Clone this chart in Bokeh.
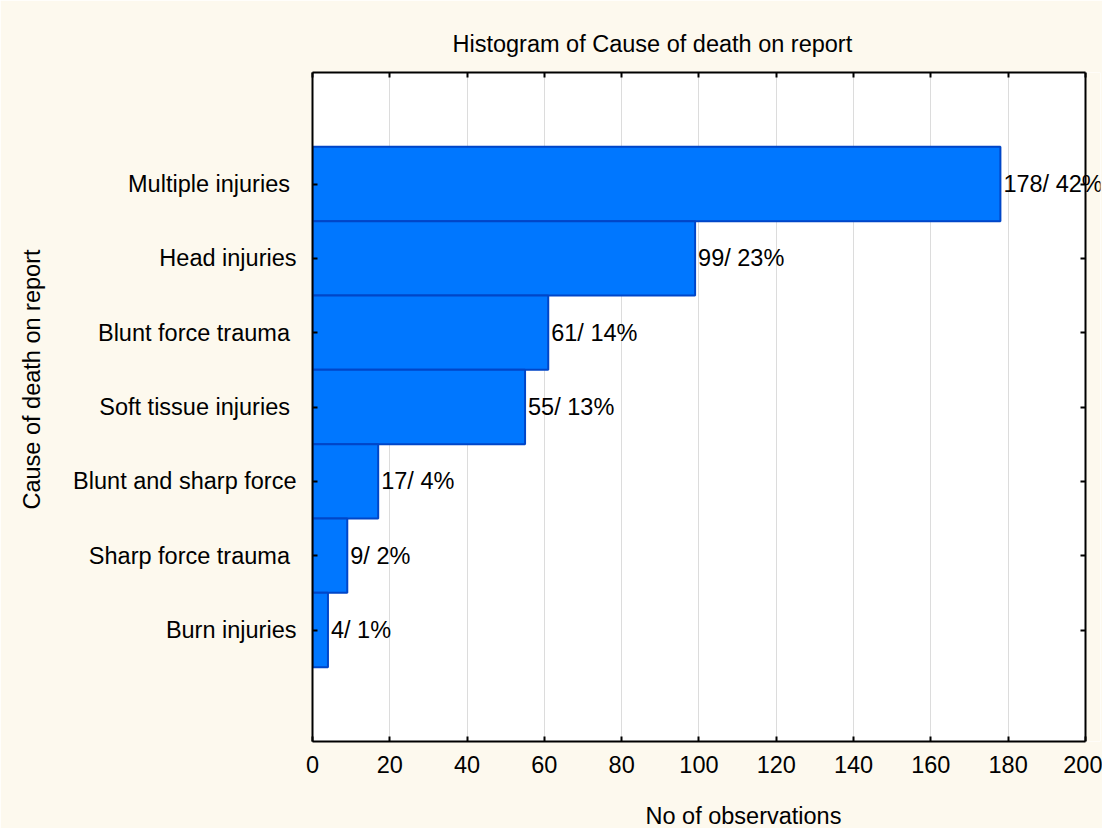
from bokeh.plotting import figure
from bokeh.models import (ColumnDataSource, Range1d, FactorRange, LinearAxis, CategoricalAxis,
                          FixedTicker, LabelSet, Title, BoxAnnotation)
from bokeh.core.properties import value
from bokeh.embed import file_html
from bokeh.resources import INLINE

# ---- data (top to bottom as in the chart) ----
causes = ["Multiple injuries ", "Head injuries", "Blunt force trauma ", "Soft tissue injuries ",
          "Blunt and sharp force", "Sharp force trauma ", "Burn injuries"]
counts = [178, 99, 61, 55, 17, 9, 4]
percents = [42, 23, 14, 13, 4, 2, 1]
x_ticks = [0, 20, 40, 60, 80, 100, 120, 140, 160, 180, 200]
X_MAX = 200          # end of the axes
X_VIEW_END = 203.9   # a little extra room so the top value label can run past the frame

labels = [f"{c}/ {p}%" for c, p in zip(counts, percents)]

FONT = "Liberation Sans"
FS = "23.5px"
CREAM = "#FDF9EE"

src = ColumnDataSource(dict(cause=causes, count=counts, label=labels))

p = figure(width=1102, height=828, output_backend="svg", toolbar_location=None,
           x_range=Range1d(0, X_VIEW_END),
           y_range=FactorRange(factors=list(reversed(causes)), range_padding=1.0,
                               range_padding_units="absolute"),
           x_axis_location=None, y_axis_location=None,
           min_border_left=312, min_border_right=2, min_border_top=72, min_border_bottom=87)
p.background_fill_color = "white"
p.border_fill_color = CREAM
p.outline_line_color = None

# area beyond the x-axis end belongs to the surrounding (cream) border
p.add_layout(BoxAnnotation(left=X_MAX, fill_color=CREAM, fill_alpha=1.0, line_color=None,
                           level="underlay"))

p.hbar(y="cause", right="count", left=0, height=1.0, source=src,
       fill_color="#0077FF", line_color="#0046C8", line_width=2)
p.add_layout(LabelSet(x="count", y="cause", text="label", source=src, x_offset=3,
                      text_baseline="middle", text_align="left", text_font=value(FONT),
                      text_font_size=value(FS), text_color="black", level="overlay"))

def style_axis(ax, labels_on=True):
    ax.axis_line_color = "black"
    ax.axis_line_width = 2
    ax.major_tick_line_color = "black"
    ax.major_tick_line_width = 2
    ax.major_tick_in = 5
    ax.major_tick_out = 0
    ax.minor_tick_line_color = None
    ax.major_label_text_font = FONT
    ax.major_label_text_font_size = FS
    ax.major_label_text_color = "black"
    if not labels_on:
        ax.major_label_text_font_size = "0px"
        ax.major_label_text_color = None
        ax.major_label_standoff = 0

# spacer labels (non-breaking space) only reserve room between tick labels and axis titles
xb = LinearAxis(ticker=FixedTicker(ticks=x_ticks), major_label_standoff=14, bounds=(0, X_MAX),
                axis_label="\u00a0", axis_label_standoff=0, axis_label_text_font_size="20px")
style_axis(xb)
p.add_layout(xb, "below")
xt = LinearAxis(ticker=FixedTicker(ticks=x_ticks), bounds=(0, X_MAX))
style_axis(xt, False)
p.add_layout(xt, "above")
yl = CategoricalAxis(major_label_standoff=16,
                     axis_label="\u00a0", axis_label_standoff=0, axis_label_text_font_size="20px")
style_axis(yl)
p.add_layout(yl, "left")
yr = CategoricalAxis(fixed_location=X_MAX)
style_axis(yr, False)
p.add_layout(yr, "right")

p.xgrid.ticker = FixedTicker(ticks=x_ticks)
p.xgrid.grid_line_color = "#DCDCDC"
p.xgrid.grid_line_width = 1
p.ygrid.grid_line_color = None

tstyle = dict(text_font=FONT, text_font_size=FS, text_font_style="normal", text_color="black")
p.add_layout(Title(text="Histogram of Cause of death on report", align="left", offset=140,
                   standoff=31, **tstyle), "above")
p.add_layout(Title(text="No of observations", align="left", offset=333, standoff=0, **tstyle),
             "below")
p.add_layout(Title(text="Cause of death on report", align="left", offset=232, standoff=2,
                   **tstyle), "left")

open("out.html", "w").write(file_html(p, INLINE))
